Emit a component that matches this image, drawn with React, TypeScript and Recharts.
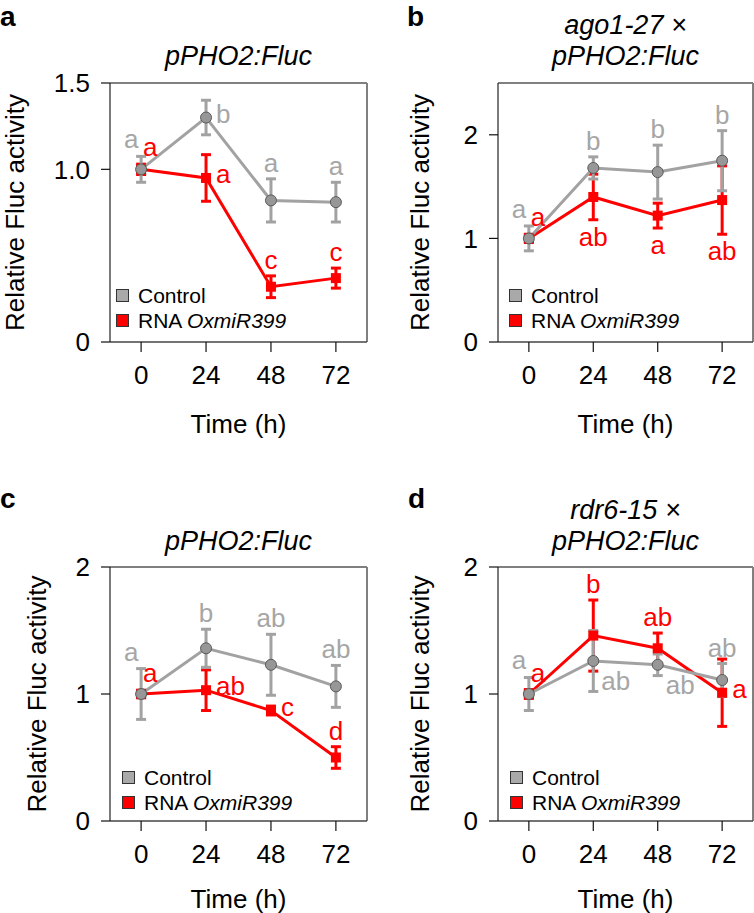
import React from "react";
import {
  ComposedChart,
  Line,
  XAxis,
  YAxis,
  ErrorBar,
  LabelList,
  Legend,
  ReferenceLine,
  Label,
} from "recharts";

const FONT = "'Liberation Sans', Arial, Helvetica, sans-serif";
const RED = "#ff0000";
const GREY_LINE = "#a2a2a2";
const GREY_TEXT = "#a6a6a6";
const GREY_DOT = "#979797";

const hours = [0, 24, 48, 72];
const xDomain = [-11.5, 83.5];

// a: pPHO2:Fluc
const aCtrl = [1.0, 1.3, 0.82, 0.81];
const aCtrlErr = [0.075, 0.1, 0.125, 0.115];
const aRna = [1.0, 0.95, 0.32, 0.37];
const aRnaErr = [0.03, 0.135, 0.063, 0.058];
const aCtrlLetters = ["a", "b", "a", "a"];
const aRnaLetters = ["a", "a", "c", "c"];
const aTicks = [0, 1, 1.5];

// b: ago1-27 x pPHO2:Fluc
const bCtrl = [1.0, 1.68, 1.64, 1.75];
const bCtrlErr = [0.12, 0.107, 0.26, 0.29];
const bRna = [1.0, 1.4, 1.22, 1.37];
const bRnaErr = [0.04, 0.22, 0.12, 0.33];
const bCtrlLetters = ["a", "b", "b", "b"];
const bRnaLetters = ["a", "ab", "a", "ab"];
const bTicks = [0, 1, 2];

// c: pPHO2:Fluc
const cCtrl = [1.0, 1.36, 1.23, 1.06];
const cCtrlErr = [0.2, 0.15, 0.24, 0.165];
const cRna = [1.0, 1.03, 0.87, 0.5];
const cRnaErr = [0.03, 0.16, 0.035, 0.085];
const cCtrlLetters = ["a", "b", "ab", "ab"];
const cRnaLetters = ["a", "ab", "c", "d"];
const cTicks = [0, 1, 2];

// d: rdr6-15 x pPHO2:Fluc
const dCtrl = [1.0, 1.26, 1.23, 1.11];
const dCtrlErr = [0.13, 0.24, 0.085, 0.13];
const dRna = [1.0, 1.46, 1.36, 1.01];
const dRnaErr = [0.035, 0.28, 0.12, 0.265];
const dCtrlLetters = ["a", "ab", "ab", "ab"];
const dRnaLetters = ["a", "b", "ab", "a"];
const dTicks = [0, 1, 2];

// where each significance letter sits relative to its point
type Pos = "tl" | "tr" | "t" | "b" | "r" | "br";

const panels = [
  {
    tag: "a", title: ["pPHO2:Fluc"], x: 0, y: 0, h: 460,
    plot: { l: 110, t: 83, r: 367, b: 342 }, yMax: 1.5, yTicks: aTicks,
    ctrl: aCtrl, ctrlErr: aCtrlErr, rna: aRna, rnaErr: aRnaErr,
    ctrlLetters: aCtrlLetters, rnaLetters: aRnaLetters,
    ctrlPos: ["tl", "r", "t", "t"] as Pos[], rnaPos: ["tr", "r", "t", "t"] as Pos[],
    tagX: 0, tagY: 25.5, titleY: [65], yLabelX: 23.6, xLabelY: 91, legend: [117, 290],
  },
  {
    tag: "b", title: ["ago1-27 \u00d7", "pPHO2:Fluc"], x: 377, y: 0, h: 460,
    plot: { l: 121, t: 83, r: 376, b: 342 }, yMax: 2.5, yTicks: bTicks,
    ctrl: bCtrl, ctrlErr: bCtrlErr, rna: bRna, rnaErr: bRnaErr,
    ctrlLetters: bCtrlLetters, rnaLetters: bRnaLetters,
    ctrlPos: ["tl", "t", "t", "t"] as Pos[], rnaPos: ["tr", "b", "b", "b"] as Pos[],
    tagX: 30, tagY: 25.5, titleY: [34, 65], yLabelX: 52, xLabelY: 91, legend: [133, 290],
  },
  {
    tag: "c", title: ["pPHO2:Fluc"], x: 0, y: 460, h: 453,
    plot: { l: 110, t: 107, r: 367, b: 361 }, yMax: 2, yTicks: cTicks,
    ctrl: cCtrl, ctrlErr: cCtrlErr, rna: cRna, rnaErr: cRnaErr,
    ctrlLetters: cCtrlLetters, rnaLetters: cRnaLetters,
    ctrlPos: ["tl", "t", "t", "t"] as Pos[], rnaPos: ["tr", "r", "r", "t"] as Pos[],
    tagX: 0, tagY: 48, titleY: [90], yLabelX: 46, xLabelY: 87, legend: [123, 312],
  },
  {
    tag: "d", title: ["rdr6-15 \u00d7", "pPHO2:Fluc"], x: 377, y: 460, h: 453,
    plot: { l: 121, t: 107, r: 376, b: 361 }, yMax: 2, yTicks: dTicks,
    ctrl: dCtrl, ctrlErr: dCtrlErr, rna: dRna, rnaErr: dRnaErr,
    ctrlLetters: dCtrlLetters, rnaLetters: dRnaLetters,
    ctrlPos: ["tl", "br", "br", "t"] as Pos[], rnaPos: ["tr", "t", "t", "r"] as Pos[],
    tagX: 31, tagY: 48, titleY: [59, 90], yLabelX: 52, xLabelY: 87, legend: [134, 312],
  },
];

type Panel = (typeof panels)[number];

const circleDot = (p: any) => (
  <circle key={`c${p.index}`} cx={p.cx} cy={p.cy} r={5.5} fill={GREY_DOT} stroke="#5a5a5a" strokeWidth={1} />
);
const squareDot = (p: any) => (
  <rect key={`s${p.index}`} x={p.cx - 5} y={p.cy - 5} width={10} height={10} fill={RED} />
);

function letterRenderer(pos: Pos[], errs: number[], ppu: number, color: string) {
  return (props: any) => {
    const i = props.index ?? 0;
    const x = props.x ?? props.viewBox?.x;
    const y = props.y ?? props.viewBox?.y;
    if (x == null || y == null) return null;
    const e = errs[i] * ppu;
    const where = pos[i];
    let tx = x;
    let ty = y;
    let anchor: "middle" | "start" = "middle";
    if (where === "t") ty = y - e - 7;
    else if (where === "tl") { tx = x - 10; ty = y - e - 8; }
    else if (where === "tr") { tx = x + 9; ty = y - e - 8; }
    else if (where === "b") ty = y + e + 26;
    else if (where === "r") { tx = x + 10; ty = y + 5; anchor = "start"; }
    else if (where === "br") { tx = x + 8; ty = y + 29; anchor = "start"; }
    return (
      <text key={`l${i}`} x={tx} y={ty} textAnchor={anchor} fontSize={26} fontFamily={FONT} fill={color}>
        {props.value}
      </text>
    );
  };
}

function LegendBox() {
  const rows = [
    { fill: "#a9a9a9", label: <>Control</> },
    { fill: RED, label: <>RNA <i>OxmiR399</i></> },
  ];
  return (
    <div style={{ fontFamily: FONT, fontSize: 21, color: "#000", lineHeight: "25px" }}>
      {rows.map((r, i) => (
        <div key={i} style={{ display: "flex", alignItems: "center", height: 25 }}>
          <span
            style={{
              display: "inline-block", width: 11, height: 11, background: r.fill,
              border: "1.5px solid #333", marginRight: 9,
            }}
          />
          <span style={{ whiteSpace: "nowrap" }}>{r.label}</span>
        </div>
      ))}
    </div>
  );
}

function PanelChart({ p }: { p: Panel }) {
  const W = 377;
  const xAxisH = 70;
  const rows = hours.map((h, i) => ({
    h,
    ctrl: p.ctrl[i],
    ctrlErr: p.ctrlErr[i],
    rna: p.rna[i],
    rnaErr: p.rnaErr[i],
    ctrlLetter: p.ctrlLetters[i],
    rnaLetter: p.rnaLetters[i],
  }));
  const ppu = (p.plot.b - p.plot.t) / p.yMax;
  const cx = (p.plot.l + p.plot.r) / 2;
  const fmt = (v: number) => (v === 0 ? "0" : p.yMax === 1.5 ? v.toFixed(1) : String(v));

  return (
    <div style={{ position: "absolute", left: p.x, top: p.y, width: W, height: p.h }}>
      <svg width={W} height={p.h} style={{ position: "absolute", left: 0, top: 0 }}>
        <text x={p.tagX} y={p.tagY} fontSize={28} fontWeight="bold" fontFamily={FONT} fill="#000">
          {p.tag}
        </text>
        {p.title.map((t, i) => (
          <text key={i} x={cx} y={p.titleY[i]} textAnchor="middle" fontSize={27} fontStyle="italic" fontFamily={FONT} fill="#000">
            {t}
          </text>
        ))}
      </svg>
      <div style={{ position: "absolute", left: 0, top: 0 }}>
        <ComposedChart
          width={W}
          height={p.h}
          data={rows}
          margin={{ top: p.plot.t, right: W - p.plot.r, bottom: p.h - p.plot.b - xAxisH, left: 0 }}
        >
          <XAxis
            type="number"
            dataKey="h"
            domain={xDomain}
            ticks={hours}
            height={xAxisH}
            tickSize={10}
            tickMargin={14}
            axisLine={{ stroke: "#444", strokeWidth: 1.5 }}
            tickLine={{ stroke: "#111", strokeWidth: 1.2 }}
            tick={{ fontSize: 26, fill: "#000", fontFamily: FONT }}
            allowDataOverflow
          >
            <Label
              content={(lp: any) => {
                const vb = lp.viewBox || {};
                return (
                  <text x={cx} y={(vb.y ?? p.plot.b) + p.xLabelY} textAnchor="middle" fontSize={26} fontFamily={FONT} fill="#000">
                    Time (h)
                  </text>
                );
              }}
            />
          </XAxis>
          <YAxis
            type="number"
            domain={[0, p.yMax]}
            ticks={p.yTicks}
            tickFormatter={fmt}
            width={p.plot.l}
            tickSize={9}
            tickMargin={11}
            axisLine={{ stroke: "#222", strokeWidth: 1.2 }}
            tickLine={{ stroke: "#111", strokeWidth: 1.2 }}
            tick={{ fontSize: 26, fill: "#000", fontFamily: FONT }}
            allowDataOverflow
          >
            <Label
              content={() => {
                const cy = (p.plot.t + p.plot.b) / 2;
                return (
                  <text
                    x={p.yLabelX}
                    y={cy}
                    transform={`rotate(-90 ${p.yLabelX} ${cy})`}
                    textAnchor="middle"
                    fontSize={26}
                    fontFamily={FONT}
                    fill="#000"
                  >
                    Relative Fluc activity
                  </text>
                );
              }}
            />
          </YAxis>
          <ReferenceLine y={p.yMax} stroke="#808080" strokeWidth={2} />
          <ReferenceLine x={xDomain[1]} stroke="#808080" strokeWidth={2} />
          <Legend
            layout="vertical"
            align="center"
            verticalAlign="middle"
            content={() => <LegendBox />}
            wrapperStyle={{ left: p.legend[0] - 1, top: p.legend[1] - 7, width: 240, height: 50 }}
          />
          <Line
            dataKey="rna"
            name="RNA OxmiR399"
            stroke={RED}
            strokeWidth={3}
            dot={squareDot}
            activeDot={false}
            isAnimationActive={false}
          >
            <ErrorBar dataKey="rnaErr" direction="y" width={5} stroke={RED} strokeWidth={3} isAnimationActive={false} />
            <LabelList dataKey="rnaLetter" content={letterRenderer(p.rnaPos, p.rnaErr, ppu, RED)} />
          </Line>
          <Line
            dataKey="ctrl"
            name="Control"
            stroke={GREY_LINE}
            strokeWidth={3}
            dot={circleDot}
            activeDot={false}
            isAnimationActive={false}
          >
            <ErrorBar dataKey="ctrlErr" direction="y" width={5} stroke={GREY_LINE} strokeWidth={3} isAnimationActive={false} />
            <LabelList dataKey="ctrlLetter" content={letterRenderer(p.ctrlPos, p.ctrlErr, ppu, GREY_TEXT)} />
          </Line>
        </ComposedChart>
      </div>
    </div>
  );
}

export default function App() {
  return (
    <div style={{ position: "absolute", left: 0, top: 0, width: 754, height: 913, background: "#fff", overflow: "hidden" }}>
      {panels.map((p) => (
        <PanelChart key={p.tag} p={p} />
      ))}
    </div>
  );
}
